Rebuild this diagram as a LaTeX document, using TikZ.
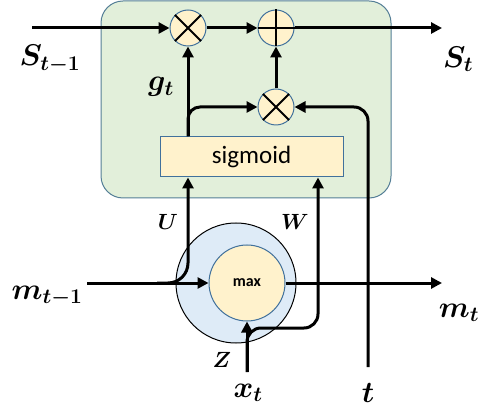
\documentclass[tikz,border=0pt]{standalone}
\usepackage{fix-cm}
\usepackage{amsmath, amssymb}
\usepackage{bm}
\usepackage{fontspec}
\newfontfamily\labfont{Carlito}
\usepackage{tikz}
\usetikzlibrary{arrows.meta}
\definecolor{cellfill}{RGB}{226, 239, 218}
\definecolor{celledge}{RGB}{84, 126, 150}
\definecolor{opfill}{RGB}{255, 242, 204}
\definecolor{opedge}{RGB}{65, 113, 156}
\definecolor{maxfill}{RGB}{222, 235, 247}

\begin{document}
\begin{tikzpicture}[x=1pt, y=-1pt,
		flow/.style={line width=3pt, -{Triangle[length=11pt, width=11pt]}},
		opnode/.style={circle, draw=opedge, line width=1pt, fill=opfill, minimum size=36pt, inner sep=0pt},
		bigtxt/.style={font=\fontsize{30}{32}\selectfont},
		smalltxt/.style={font=\fontsize{22}{24}\selectfont}
	]
	\useasboundingbox (0,0) rectangle (481,419);
	
	\fill[cellfill, draw=celledge, line width=1pt, rounded corners=22pt] (101,1) rectangle (391,198);
	
	\node[opnode] (mulS) at (188,28) {};
	\node[opnode] (addS) at (276,28) {};
	\node[opnode] (mulM) at (276,107) {};
	\draw[line width=2pt] (mulS.north west) -- (mulS.south east) (mulS.north east) -- (mulS.south west);
	\draw[line width=2pt] (addS.north) -- (addS.south) (addS.west) -- (addS.east);
	\draw[line width=2pt] (mulM.north west) -- (mulM.south east) (mulM.north east) -- (mulM.south west);
	
	\node[draw=opedge, line width=1pt, fill=opfill, minimum width=183pt, minimum height=40pt,
		font=\labfont\fontsize{25}{28}\selectfont] (sig) at (251.5,157) {sigmoid};
	
	\node[circle, draw=black, line width=1pt, fill=maxfill, minimum size=120pt, inner sep=0pt] (outer) at (236,283) {};
	\node[circle, draw=opedge, line width=1pt, fill=opfill, minimum size=76pt, inner sep=0pt,
		font=\labfont\bfseries\fontsize{16}{18}\selectfont] (inner) at (247,283) {max};
	
	\coordinate (sin) at (32,28);
	\coordinate (sout) at (442,28);
	\coordinate (min) at (87,283);
	\coordinate (mout) at (442,283);
	\coordinate (uin) at (157,283);
	\coordinate (xin) at (247,372);
	\coordinate (tin) at (368,367);
	\coordinate (wbend) at (318,328);
	
	\draw[flow] (sin) -- (mulS);
	\draw[flow] (mulS) -- (addS);
	\draw[flow] (addS) -- (sout);
	\draw[flow] (mulS |- sig.north) -- (mulS);
	\draw[flow, rounded corners=12pt] (mulS |- sig.north) |- (mulM);
	\draw[flow] (mulM) -- (addS);
	\draw[flow, rounded corners=14pt] (tin) |- (mulM);
	
	\draw[flow, rounded corners=20pt] (uin) -| (sig.south -| mulS);
	\draw[flow, rounded corners=14pt] (xin) |- (wbend) -- (wbend |- sig.south);
	\draw[flow] (min) -- (inner);
	\draw[flow] (inner) -- (mout);
	\draw[flow] (xin) -- (inner);
	
	\node[bigtxt] (lsin) at (50,59) {$\bm{S_{t-1}}$};
	\node[bigtxt] (lsout) at (458,59) {$\bm{S_t}$};
	\node[bigtxt] (lg) at (161,87) {$\bm{g_t}$};
	\node[smalltxt] (lu) at (168,222) {$\bm{U}$};
	\node[smalltxt] (lw) at (295,222) {$\bm{W}$};
	\node[smalltxt] (lz) at (222,360) {$\bm{Z}$};
	\node[bigtxt] (lmin) at (47,296) {$\bm{m_{t-1}}$};
	\node[bigtxt] (lmout) at (459,313) {$\bm{m_t}$};
	\node[bigtxt] (lx) at (248,393) {$\bm{x_t}$};
	\node[bigtxt] (lt) at (368,393) {$\bm{t}$};
\end{tikzpicture}
\end{document}
